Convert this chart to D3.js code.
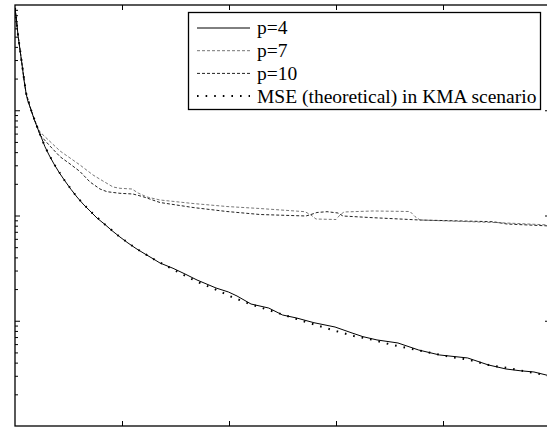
<!DOCTYPE html>
<html>
<head>
<meta charset="utf-8">
<script src="https://cdn.jsdelivr.net/npm/d3@7/dist/d3.min.js"></script>
<style>
  html, body { margin: 0; padding: 0; background: #fff; }
  svg { display: block; }
</style>
</head>
<body>
<svg id="chart" width="547" height="427"></svg>
<script>
// ---- data (iteration, MSE) ----
const p4 = [
  [0,0.937],[1.4,0.720],[2.8,0.519],[4.7,0.3736],[6.5,0.275],[8.4,0.1938],[10.3,0.1459],[11.7,0.1252],
  [15,0.1006],[17.8,0.0826],[21,0.0678],[24.8,0.0545],[28,0.0450],[31.8,0.0376],[36.4,0.0309],
  [41.6,0.02533],[46.7,0.02127],[52.3,0.01774],[57.9,0.01499],[63.6,0.01286],[70.1,0.01104],
  [76.6,0.009467],[84.1,0.008211],[90.7,0.007171],[98.1,0.006247],[105.6,0.005479],[113.1,0.004858],
  [121.5,0.004308],[129,0.003886],[135.5,0.003537],[147.7,0.003150],[158.9,0.002781],[170.1,0.002439],
  [187.9,0.002047],[199.5,0.001876],[207.5,0.001718],[220.6,0.001442],[237.1,0.001321],[250.1,0.001134],
  [263.2,0.001062],[279.4,0.000958],[299.1,0.000872],[315,0.000765],[325.2,0.000706],[338.3,0.000657],
  [357.9,0.000615],[377.3,0.000527],[396.8,0.000473],[423,0.000443],[442.5,0.000380],[458.9,0.000348],
  [472,0.000335],[485,0.000326],[500,0.000299]
];
const p7 = [
  [0,0.937],[2.8,0.519],[6.5,0.275],[10.3,0.1459],[15,0.1006],[18.7,0.0790],[23.4,0.0621],
  [32.7,0.0505],[42.1,0.0410],[51.4,0.0352],[60.7,0.0302],[72.9,0.02426],[82.2,0.02127],[91.6,0.01866],
  [98.1,0.01813],[109.3,0.01786],[115,0.01636],[123.4,0.01499],[135.5,0.01404],[166.4,0.01300],
  [198.1,0.01217],[229,0.01165],[271,0.01087],[276.6,0.01011],[281.3,0.00926],[300,0.00916],
  [303.7,0.01011],[307.5,0.01080],[334.6,0.01104],[369.2,0.01091],[373.8,0.00978],[378.5,0.00906],
  [453.3,0.00854],[500,0.00812]
];
const p10 = [
  [0,0.937],[2.8,0.519],[6.5,0.275],[10.3,0.1459],[15,0.1006],[18.7,0.0790],[23.4,0.0582],
  [32.7,0.0457],[42.1,0.0362],[51.4,0.0309],[60.7,0.02618],[70.1,0.02081],[79.4,0.01786],[86,0.01683],
  [98.1,0.01625],[110.3,0.01600],[119.6,0.01509],[135.5,0.01329],[166.4,0.01191],[198.1,0.01091],
  [229,0.01022],[271.9,0.00989],[276.6,0.01022],[282.2,0.01068],[291.6,0.01087],[301.9,0.01056],
  [306.5,0.00989],[334.6,0.00953],[359.8,0.00926],[378.5,0.00906],[446.7,0.00873],[459.8,0.00830],
  [500,0.00795]
];
const theory = [
  [0,0.937],[2.8,0.519],[6.5,0.275],[10.3,0.1459],[15,0.1006],[21,0.0678],[28,0.0450],[36.4,0.0309],
  [46.7,0.02127],[57.9,0.01499],[70.1,0.01104],[84.1,0.008211],[98.1,0.006247],[113.1,0.004858],
  [129,0.003886],[147.7,0.003069],[170.1,0.002350],[186.5,0.002003],[202.8,0.001681],[219.6,0.001442],
  [237.1,0.001265],[263.2,0.001039],[281.1,0.000911],[299.1,0.000804],[316.8,0.000716],[335,0.000657],
  [353,0.000588],[371,0.000539],[388.8,0.000494],[406.5,0.000455],[424.9,0.000424],[442.5,0.000380],
  [460.5,0.000356],[478.5,0.000328],[500,0.000299]
];
const legendLabels = ["p=4", "p=7", "p=10", "MSE (theoretical) in KMA scenario"];
const xTicks = [100, 200, 300, 400];
const yMajor = [1e-3, 1e-2, 1e-1];

// ---- layout ----
const svg = d3.select("#chart");
const L = 15, T = 5, R = 550, B = 426;
const x = d3.scaleLinear().domain([0, 500]).range([L, R]);
const y = d3.scaleLog().domain([1e-4, 1]).range([B, T]);

const yMinor = [];
for (let e = -4; e < 0; e++) for (let m = 2; m <= 9; m++) yMinor.push(m * Math.pow(10, e));

svg.append("defs").append("clipPath").attr("id", "clip")
  .append("rect").attr("x", L).attr("y", T).attr("width", R - L).attr("height", B - T);

const styles = {
  p4:  { stroke: "#000", width: 1, dash: null },
  p7:  { stroke: "#666", width: 0.9, dash: "3,2" },
  p10: { stroke: "#222", width: 1, dash: "3,2" },
  th:  { stroke: "#000", width: 2, dash: "1.6,7" }
};

const line = d3.line().x(d => x(d[0])).y(d => y(d[1]));
const g = svg.append("g").attr("clip-path", "url(#clip)");
[[p7, styles.p7], [p10, styles.p10], [p4, styles.p4], [theory, styles.th]].forEach(([data, s]) => {
  g.append("path").datum(data).attr("d", line)
    .attr("fill", "none").attr("stroke", s.stroke).attr("stroke-width", s.width)
    .attr("stroke-dasharray", s.dash);
});

// ---- axes (inward ticks, no labels) ----
function styleAxis(sel) {
  sel.select(".domain").remove();
  sel.selectAll(".tick line").attr("stroke", "#000").attr("stroke-width", 1);
  sel.selectAll("text").remove();
}
svg.append("g").attr("transform", `translate(0,${B})`)
  .call(d3.axisBottom(x).tickValues(xTicks).tickSize(-5).tickFormat("")).call(styleAxis);
svg.append("g").attr("transform", `translate(0,${T})`)
  .call(d3.axisTop(x).tickValues(xTicks).tickSize(-5).tickFormat("")).call(styleAxis);
svg.append("g").attr("transform", `translate(${L},0)`)
  .call(d3.axisLeft(y).tickValues(yMajor).tickSize(-5).tickFormat("")).call(styleAxis);
svg.append("g").attr("transform", `translate(${L},0)`)
  .call(d3.axisLeft(y).tickValues(yMinor).tickSize(-3).tickFormat("")).call(styleAxis);
svg.append("g").attr("transform", `translate(${R},0)`)
  .call(d3.axisRight(y).tickValues(yMajor).tickSize(-5).tickFormat("")).call(styleAxis);
svg.append("g").attr("transform", `translate(${R},0)`)
  .call(d3.axisRight(y).tickValues(yMinor).tickSize(-3).tickFormat("")).call(styleAxis);

svg.append("rect").attr("x", L).attr("y", T).attr("width", R - L).attr("height", B - T)
  .attr("fill", "none").attr("stroke", "#000").attr("stroke-width", 1.3);

// ---- legend ----
const lg = svg.append("g");
lg.append("rect").attr("x", 188.5).attr("y", 12.5).attr("width", 352).attr("height", 97)
  .attr("fill", "#fff").attr("stroke", "#000").attr("stroke-width", 1.3);
const lstyles = [styles.p4, styles.p7, styles.p10, styles.th];
legendLabels.forEach((lab, i) => {
  const cy = 28 + i * 22.7;
  const s = lstyles[i];
  lg.append("line").attr("x1", 197).attr("x2", 250).attr("y1", cy).attr("y2", cy)
    .attr("stroke", s.stroke).attr("stroke-width", s.width).attr("stroke-dasharray", s.dash);
  lg.append("text").attr("x", 257).attr("y", cy).attr("dy", "0.33em")
    .style("font-family", '"Liberation Serif"').style("font-size", "19.5px")
    .attr("fill", "#000").text(lab);
});
</script>
</body>
</html>
